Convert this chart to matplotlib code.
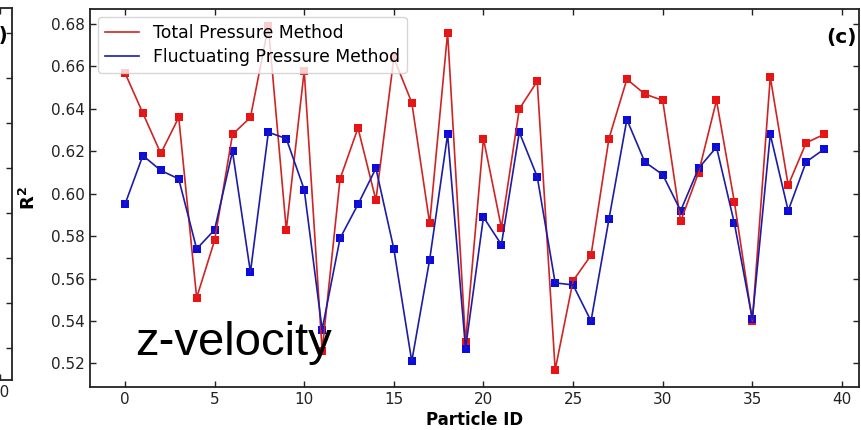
"""R^2 per particle, z-velocity panel (c): total vs fluctuating pressure.

Run:  python3 plot.py
Out:  out.png
"""
import numpy as np
import matplotlib
matplotlib.use("Agg")
import matplotlib.pyplot as plt  # noqa: E402

W, H, DPI = 861, 430, 100

particle_id = list(range(40))
r2_total = [0.657, 0.638, 0.619, 0.636, 0.551, 0.578, 0.628, 0.636, 0.679,
            0.583, 0.658, 0.526, 0.607, 0.631, 0.597, 0.664, 0.643, 0.586,
            0.676, 0.530, 0.626, 0.584, 0.640, 0.653, 0.517, 0.559, 0.571,
            0.626, 0.654, 0.647, 0.644, 0.587, 0.610, 0.644, 0.596, 0.540,
            0.655, 0.604, 0.624, 0.628]
r2_fluct = [0.595, 0.618, 0.611, 0.607, 0.574, 0.583, 0.620, 0.563, 0.629,
            0.626, 0.602, 0.536, 0.579, 0.595, 0.612, 0.574, 0.521, 0.569,
            0.628, 0.527, 0.589, 0.576, 0.629, 0.608, 0.558, 0.557, 0.540,
            0.588, 0.635, 0.615, 0.609, 0.592, 0.612, 0.622, 0.586, 0.541,
            0.628, 0.592, 0.615, 0.621]
labels = ["Total Pressure Method", "Fluctuating Pressure Method"]
x_ticks = [0, 5, 10, 15, 20, 25, 30, 35, 40]
y_ticks = [0.52, 0.54, 0.56, 0.58, 0.60, 0.62, 0.64, 0.66, 0.68]

RED_LINE, RED_MK = "#d02424", "#ee1111"
BLUE_LINE, BLUE_MK = "#1c1ca6", "#0a0ae6"


def px(x0, y0, x1, y1):
    """pixel box (left, top, right, bottom) -> figure fraction rect."""
    return [x0 / W, 1 - y1 / H, (x1 - x0) / W, (y1 - y0) / H]


def style(ax):
    ax.tick_params(direction="in", top=True, right=True, length=4,
                   width=1, labelsize=11, colors="#222222")
    for s in ax.spines.values():
        s.set_linewidth(1.3)
        s.set_color("#222222")


fig = plt.figure(figsize=(W / DPI, H / DPI), dpi=DPI)

# sliver of the neighbouring panel (b) at the left edge; only its
# last x tick label ("40") reaches into the picture
axb = fig.add_axes(px(-548, 8, 12, 380))
style(axb)
axb.set_xlim(-1.95, 40.95)
axb.set_xticks(x_ticks)
axb.set_xticklabels([""] * (len(x_ticks) - 1) + ["40"])
axb.set_ylim(-0.71, 7.56)
axb.set_yticks(np.arange(8))
axb.tick_params(labelleft=False)
fig.text(8 / W, 1 - 35 / H, "(b)", ha="right", va="center",
         fontsize=14, fontweight="bold")

# panel (c)
ax = fig.add_axes(px(90, 9, 859, 387))
style(ax)
ax.plot(particle_id, r2_total, color=RED_LINE, lw=1.2, label=labels[0])
ax.plot(particle_id, r2_fluct, color=BLUE_LINE, lw=1.2, label=labels[1])
ax.scatter(particle_id, r2_total, marker="s", s=38, color=RED_MK,
           linewidths=0)
ax.scatter(particle_id, r2_fluct, marker="s", s=38, color=BLUE_MK,
           linewidths=0)
ax.set_xticks(x_ticks)
ax.set_yticks(y_ticks)
ax.set_yticklabels([f"{v:.2f}" for v in y_ticks])
ax.set_xlabel("Particle ID", fontsize=12, fontweight="bold", labelpad=3)
ax.set_ylabel(r"$\mathbf{R^2}$", fontsize=13, labelpad=9)
ax.legend(loc="upper left", fontsize=12.4, handlelength=2.0,
          borderaxespad=0.45, labelspacing=0.35)
ax.text(857 / W, 1 - 37 / H, "(c)", transform=fig.transFigure,
        ha="right", va="center", fontsize=14.5, fontweight="bold")
ax.text((135 - 90) / 769, (387 - 355) / 378, "z-velocity",
        transform=ax.transAxes, ha="left", va="baseline",
        fontsize=34, family="Liberation Sans")

fig.savefig("out.png", dpi=DPI)
